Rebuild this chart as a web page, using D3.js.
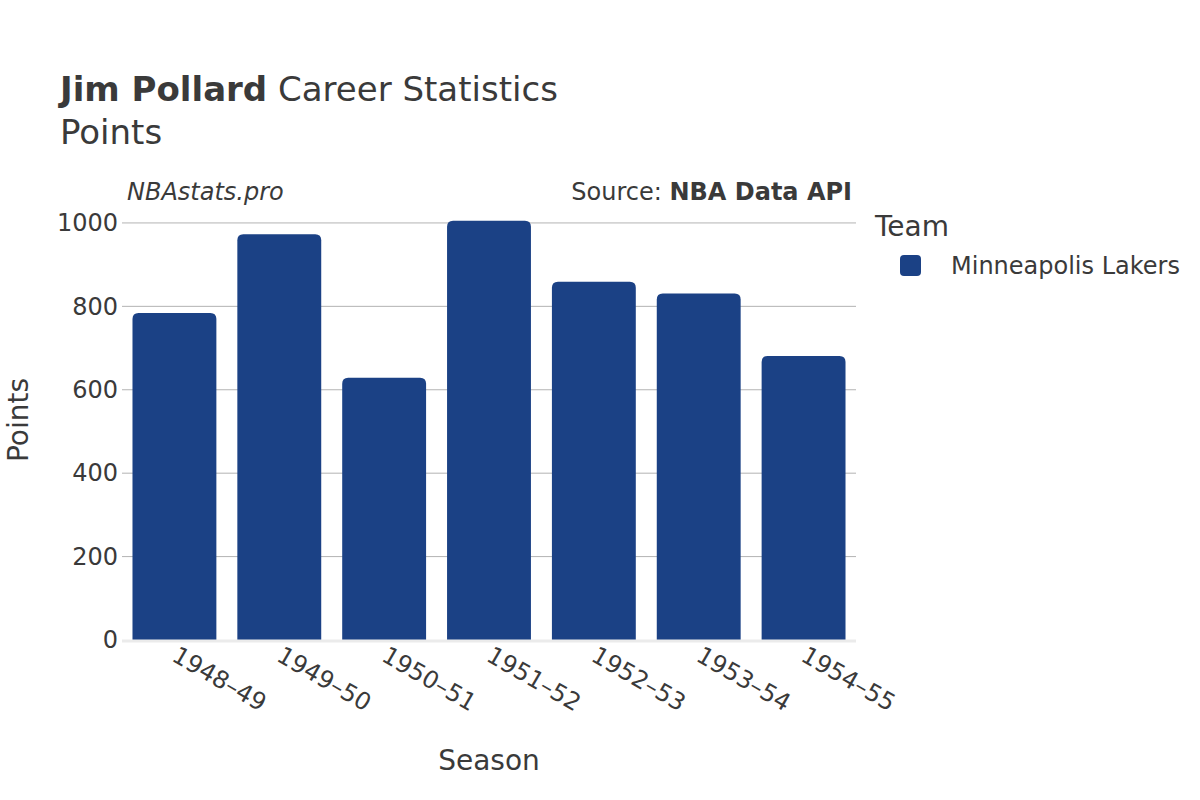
<!DOCTYPE html>
<html><head><meta charset="utf-8">
<script src="https://cdn.jsdelivr.net/npm/d3@7"></script>
<style>body{margin:0;background:#fff;} text{font-family:"DejaVu Sans",sans-serif;fill:#3a3a3a;}</style>
</head><body>
<svg id="c" width="1200" height="800"></svg>
<script>
const seasons = ["1948–49","1949–50","1950–51","1951–52","1952–53","1953–54","1954–55"];
const points = [784, 973, 629, 1005, 859, 831, 681];
const yTicks = [0, 200, 400, 600, 800, 1000];
const teamName = "Minneapolis Lakers";
const barColor = "#1b4185";

const svg = d3.select("#c");
const m = {l:122, r:856, t:200, b:640};
const x = d3.scaleBand().domain(seasons).range([m.l, m.r]).paddingInner(0.2).paddingOuter(0.1);
const y = d3.scaleLinear().domain([0, 1055]).range([m.b, m.t]);

// grid
svg.append("g").selectAll("line").data(yTicks.filter(d=>d>0)).join("line")
  .attr("x1", m.l).attr("x2", m.r).attr("y1", d=>y(d)).attr("y2", d=>y(d))
  .attr("stroke", "#b3b3b3").attr("stroke-width", 1);

// y axis labels
const yAxis = d3.axisLeft(y).tickValues(yTicks).tickFormat(d3.format("d")).tickSize(0).tickPadding(4);
const ga = svg.append("g").attr("transform", `translate(${m.l},0)`).call(yAxis);
ga.select(".domain").remove();
ga.selectAll("text").style("font-size","24px").style("font-family","DejaVu Sans").attr("fill","#3a3a3a");

// bars
const r = 6;
svg.append("g").selectAll("path").data(seasons).join("path")
  .attr("fill", barColor)
  .attr("d", (s,i) => {
    const x0 = x(s), w = x.bandwidth(), y0 = y(points[i]), y1 = y(0);
    return `M${x0},${y1} V${y0+r} Q${x0},${y0} ${x0+r},${y0} H${x0+w-r} Q${x0+w},${y0} ${x0+w},${y0+r} V${y1} Z`;
  });

// zero line
svg.append("line").attr("x1", m.l).attr("x2", m.r).attr("y1", y(0)+1).attr("y2", y(0)+1)
  .attr("stroke", "#ebebeb").attr("stroke-width", 3);

// x axis labels
const xAxis = d3.axisBottom(x).tickSize(0).tickPadding(0);
const gx = svg.append("g").attr("transform", `translate(0,${m.b})`).call(xAxis);
gx.select(".domain").remove();
gx.selectAll("text").style("font-size","24px").style("font-family","DejaVu Sans").attr("fill","#3a3a3a")
  .attr("text-anchor","start").attr("dy", null).attr("y", 0)
  .attr("transform","translate(-4,20) rotate(30)");

// titles
const t = svg.append("text").attr("x", 60).attr("y", 101).style("font-size","34px");
t.append("tspan").style("font-weight","bold").text("Jim Pollard");
t.append("tspan").text(" Career Statistics");
svg.append("text").attr("x", 60).attr("y", 144).style("font-size","34px").text("Points");

svg.append("text").attr("x", 127).attr("y", 200).style("font-size","24px").style("font-style","italic").text("NBAstats.pro");
const src = svg.append("text").attr("x", 852).attr("y", 200).attr("text-anchor","end").style("font-size","24px");
src.append("tspan").text("Source: ");
src.append("tspan").style("font-weight","bold").text("NBA Data API");

svg.append("text").attr("x", (m.l+m.r)/2).attr("y", 770).attr("text-anchor","middle").style("font-size","28px").text("Season");
svg.append("text").attr("transform", `translate(28,${(m.t+m.b)/2}) rotate(-90)`).attr("text-anchor","middle").style("font-size","28px").text("Points");

// legend
svg.append("text").attr("x", 875).attr("y", 236).style("font-size","28px").text("Team");
svg.append("rect").attr("x", 900).attr("y", 255).attr("width", 21).attr("height", 21).attr("rx", 4).attr("fill", barColor);
svg.append("text").attr("x", 951).attr("y", 274).style("font-size","24px").text(teamName);
</script>
</body></html>
